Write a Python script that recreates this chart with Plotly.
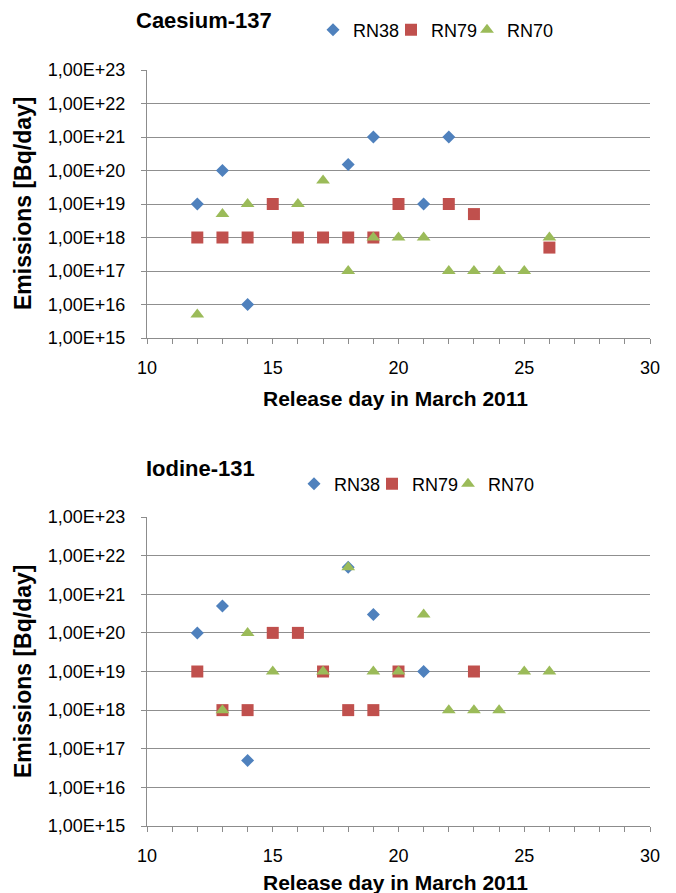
import plotly.graph_objects as go

# ---------------- data ----------------
series_names = ["RN38", "RN79", "RN70"]

cs_rn38_day = [12, 13, 14, 18, 19, 21, 22]
cs_rn38_val = [1e19, 1e20, 1e16, 1.5e20, 1e21, 1e19, 1e21]
cs_rn79_day = [12, 13, 14, 15, 16, 17, 18, 19, 20, 22, 23, 26]
cs_rn79_val = [1e18, 1e18, 1e18, 1e19, 1e18, 1e18, 1e18, 1e18, 1e19, 1e19, 5e18, 5e17]
cs_rn70_day = [12, 13, 14, 16, 17, 18, 19, 20, 21, 22, 23, 24, 25, 26]
cs_rn70_val = [5e15, 5e18, 1e19, 1e19, 5e19, 1e17, 1e18, 1e18, 1e18, 1e17, 1e17, 1e17, 1e17, 1e18]

io_rn38_day = [12, 13, 14, 18, 19, 21]
io_rn38_val = [1e20, 5e20, 5e16, 5e21, 3e20, 1e19]
io_rn79_day = [12, 13, 14, 15, 16, 17, 18, 19, 20, 23]
io_rn79_val = [1e19, 1e18, 1e18, 1e20, 1e20, 1e19, 1e18, 1e18, 1e19, 1e19]
io_rn70_day = [13, 14, 15, 17, 18, 19, 20, 21, 22, 23, 24, 25, 26]
io_rn70_val = [1e18, 1e20, 1e19, 1e19, 5e21, 1e19, 1e19, 3e20, 1e18, 1e18, 1e18, 1e19, 1e19]

x_ticks = list(range(10, 31))
x_tick_labels = [str(v) if v % 5 == 0 else "" for v in x_ticks]
y_exponents = list(range(15, 24))
y_ticks = [10.0 ** e for e in y_exponents]
y_tick_labels = ["1,00E+%d" % e for e in y_exponents]

# ---------------- styles ----------------
FONT = "Liberation Sans, Arial, sans-serif"
colors = {"RN38": "#4F81BD", "RN79": "#C0504D", "RN70": "#9BBB59"}
symbols = {"RN38": "diamond", "RN79": "square", "RN70": "triangle-up"}
sizes = {"RN38": 10, "RN79": 12, "RN70": 12}
GRID = "#8F8F8F"
AXIS = "#8C8C8C"

# page body has an 8px margin: figure is drawn 8px in from the window corner
OFF = 8
W, H = 676 - OFF, 893 - OFF
L, R, T, B = 147 - OFF, 26, 70 - OFF, 67
ph = H - T - B
pw = W - L - R


def fx(px):  # window pixel x -> paper x
    return (px - OFF - L) / pw


def fy(py):  # window pixel y -> paper y
    return 1 - (py - OFF - T) / ph


fig = go.Figure()

top = [(cs_rn38_day, cs_rn38_val), (cs_rn79_day, cs_rn79_val), (cs_rn70_day, cs_rn70_val)]
bot = [(io_rn38_day, io_rn38_val), (io_rn79_day, io_rn79_val), (io_rn70_day, io_rn70_val)]

# legend text start positions (window px) and vertical centres
top_legend_text_x = [353, 431, 507]
bot_legend_text_x = [334, 412, 488]
top_legend_y, bot_legend_y = 30, 484

legend_layouts = {}
for i, (name, (xs, ys)) in enumerate(zip(series_names, top)):
    lg = "legend" if i == 0 else "legend%d" % (i + 1)
    fig.add_trace(go.Scatter(x=xs, y=ys, mode="markers", name=name,
                             marker=dict(symbol=symbols[name], size=sizes[name], color=colors[name]),
                             xaxis="x", yaxis="y", legend=lg))
    legend_layouts[lg] = dict(x=fx(top_legend_text_x[i] - 40), xanchor="left",
                              y=fy(top_legend_y), yanchor="middle")
for i, (name, (xs, ys)) in enumerate(zip(series_names, bot)):
    lg = "legend%d" % (i + 4)
    fig.add_trace(go.Scatter(x=xs, y=ys, mode="markers", name=name,
                             marker=dict(symbol=symbols[name], size=sizes[name], color=colors[name]),
                             xaxis="x2", yaxis="y2", legend=lg))
    legend_layouts[lg] = dict(x=fx(bot_legend_text_x[i] - 40), xanchor="left",
                              y=fy(bot_legend_y), yanchor="middle")

for lg, pos in legend_layouts.items():
    pos.update(orientation="h", itemwidth=30, bgcolor="rgba(0,0,0,0)", borderwidth=0,
               font=dict(family=FONT, size=18, color="#000000"))

xaxis_common = dict(range=[10, 30], tickmode="array", tickvals=x_ticks, ticktext=x_tick_labels,
                    ticks="outside", ticklen=5, tickcolor=AXIS, showline=True, linecolor=AXIS,
                    linewidth=1, showgrid=False, zeroline=False, ticklabelstandoff=8,
                    tickfont=dict(family=FONT, size=18, color="#000000"))
yaxis_common = dict(type="log", range=[15, 23], tickmode="array", tickvals=y_ticks,
                    ticktext=y_tick_labels, ticks="outside", ticklen=5, tickcolor=AXIS,
                    showline=True, linecolor=AXIS, linewidth=1, showgrid=True, gridcolor=GRID,
                    gridwidth=1, zeroline=False, ticklabelstandoff=12,
                    tickfont=dict(family=FONT, size=18, color="#000000"))

fig.update_layout(
    width=W, height=H,
    margin=dict(l=L, r=R, t=T, b=B, autoexpand=False),
    paper_bgcolor="white", plot_bgcolor="white",
    xaxis=dict(domain=[0, 1], anchor="y", **xaxis_common),
    yaxis=dict(domain=[fy(338), 1], anchor="x", **yaxis_common),
    xaxis2=dict(domain=[0, 1], anchor="y2", **xaxis_common),
    yaxis2=dict(domain=[0, fy(517)], anchor="x2", **yaxis_common),
    showlegend=True,
    **legend_layouts,
)

ann_font_title = dict(family=FONT, size=22, color="#000000")
ann_font_xt = dict(family=FONT, size=21, color="#000000")
ann_font_yt = dict(family=FONT, size=23, color="#000000")
annotations = [
    dict(text="<b>Caesium-137</b>", x=fx(204), y=fy(21), xref="paper", yref="paper",
         xanchor="center", yanchor="middle", showarrow=False, font=ann_font_title),
    dict(text="<b>Iodine-131</b>", x=fx(200), y=fy(468), xref="paper", yref="paper",
         xanchor="center", yanchor="middle", showarrow=False, font=ann_font_title),
    dict(text="<b>Release day in March 2011</b>", x=fx(395), y=fy(398), xref="paper",
         yref="paper", xanchor="center", yanchor="middle", showarrow=False, font=ann_font_xt),
    dict(text="<b>Release day in March 2011</b>", x=fx(395), y=fy(882), xref="paper",
         yref="paper", xanchor="center", yanchor="middle", showarrow=False, font=ann_font_xt),
    dict(text="<b>Emissions [Bq/day]</b>", x=fx(23), y=fy(204), xref="paper", yref="paper",
         xanchor="center", yanchor="middle", textangle=-90, showarrow=False, font=ann_font_yt),
    dict(text="<b>Emissions [Bq/day]</b>", x=fx(23), y=fy(672), xref="paper", yref="paper",
         xanchor="center", yanchor="middle", textangle=-90, showarrow=False, font=ann_font_yt),
]
fig.update_layout(annotations=annotations)

fig.write_html("out.html")
